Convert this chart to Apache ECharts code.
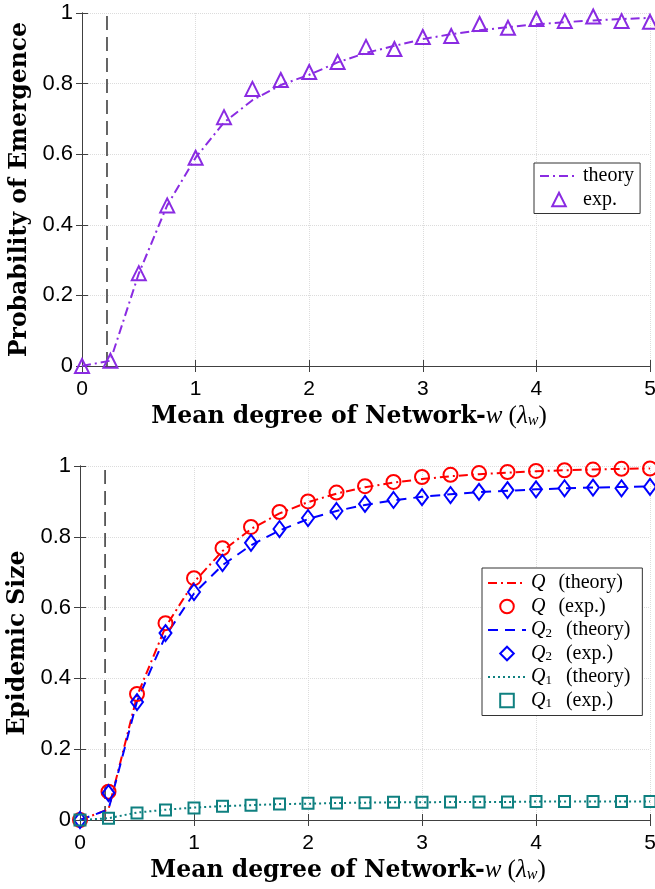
<!DOCTYPE html>
<html>
<head>
<meta charset="utf-8">
<script src="https://cdn.jsdelivr.net/npm/echarts@6/dist/echarts.min.js"></script>
<style>
	html, body { margin: 0; padding: 0; background: #fff; }
	#chart { width: 655px; height: 889px; }
</style>
</head>
<body>
<div id="chart"></div>
<script>
// x 取值 (mean degree)
var xVals = [0, 0.25, 0.5, 0.75, 1, 1.25, 1.5, 1.75, 2, 2.25, 2.5, 2.75, 3, 3.25, 3.5, 3.75, 4, 4.25, 4.5, 4.75, 5];
var threshold = 0.22;
var xTicks = [0, 1, 2, 3, 4, 5];
var yTicks = [0, 0.2, 0.4, 0.6, 0.8, 1];

// 上图：出现概率
var emergenceTheory = [0, 0.015, 0.262, 0.455, 0.59, 0.69, 0.753, 0.796, 0.825, 0.86, 0.887, 0.907, 0.926, 0.94, 0.951, 0.96, 0.968, 0.974, 0.979, 0.983, 0.986];
var emergenceExp = [0, 0.015, 0.263, 0.455, 0.59, 0.705, 0.785, 0.81, 0.833, 0.861, 0.904, 0.898, 0.932, 0.935, 0.969, 0.958, 0.983, 0.977, 0.99, 0.977, 0.975];

// 下图：流行规模
var qTheory = [0, 0.03, 0.35, 0.545, 0.672, 0.76, 0.822, 0.866, 0.898, 0.922, 0.94, 0.953, 0.963, 0.971, 0.977, 0.981, 0.985, 0.988, 0.99, 0.992, 0.993];
var qExp = [0, 0.08, 0.356, 0.556, 0.683, 0.768, 0.828, 0.87, 0.9, 0.925, 0.943, 0.955, 0.969, 0.975, 0.98, 0.983, 0.986, 0.988, 0.99, 0.992, 0.993];
var q2Theory = [0, 0.03, 0.335, 0.52, 0.64, 0.72, 0.776, 0.818, 0.85, 0.873, 0.89, 0.903, 0.913, 0.92, 0.926, 0.93, 0.934, 0.937, 0.939, 0.941, 0.942];
var q2Exp = [0, 0.076, 0.333, 0.528, 0.644, 0.726, 0.783, 0.822, 0.853, 0.873, 0.893, 0.904, 0.912, 0.918, 0.927, 0.932, 0.934, 0.937, 0.939, 0.937, 0.941];
var q1Theory = [0, 0.005, 0.021, 0.029, 0.035, 0.039, 0.042, 0.045, 0.046, 0.048, 0.049, 0.05, 0.05, 0.051, 0.051, 0.051, 0.052, 0.052, 0.052, 0.052, 0.052];
var q1Exp = [0, 0.005, 0.02, 0.028, 0.034, 0.039, 0.042, 0.045, 0.047, 0.048, 0.049, 0.05, 0.05, 0.051, 0.051, 0.051, 0.052, 0.052, 0.052, 0.052, 0.052];

var PURPLE = '#8a2be2', RED = '#ff0000', BLUE = '#0000ff', TEAL = '#0f8080';
var AXIS = '#404040';
var SANS = 'Liberation Sans';
var SERIF = 'Liberation Serif';
var TITLE_FONT = 'DejaVu Serif';

function pairs(arr) {
	var out = [];
	for (var i = 0; i < xVals.length; i++) {
		out.push([xVals[i], arr[i]]);
	}
	return out;
}

function mainX(grid, name) {
	return {
		gridIndex : grid,
		type : 'value',
		min : xTicks[0],
		max : xTicks[xTicks.length - 1],
		interval : 1,
		position : 'bottom',
		axisLine : { show : true, lineStyle : { color : AXIS, width : 1 } },
		axisTick : { show : true, inside : true, length : 6, lineStyle : { color : AXIS } },
		axisLabel : { color : '#000', fontFamily : SANS, fontSize : 21, margin : 13 },
		splitLine : { show : true, lineStyle : { color : '#dcdcdc', type : 'dotted', width : 1 } },
		name : name,
		nameLocation : 'middle',
		nameGap : 38,
		nameTextStyle : {
			color : '#000',
			padding : [0, 34, 0, 0],
			rich : {
				b : { fontFamily : TITLE_FONT, fontWeight : 'bold', fontSize : 23.5, color : '#000' },
				i : { fontFamily : SERIF, fontStyle : 'italic', fontSize : 25, color : '#000' },
				p : { fontFamily : SERIF, fontSize : 25, color : '#000' },
				s : { fontFamily : SERIF, fontStyle : 'italic', fontSize : 16, color : '#000', lineHeight : 15, verticalAlign : 'bottom' }
			}
		}
	};
}
function boxX(grid) {
	return {
		gridIndex : grid,
		type : 'value',
		min : xTicks[0],
		max : xTicks[xTicks.length - 1],
		interval : 1,
		position : 'top',
		axisLine : { show : true, lineStyle : { color : AXIS, width : 1 } },
		axisTick : { show : true, inside : true, length : 6, lineStyle : { color : AXIS } },
		axisLabel : { show : false },
		splitLine : { show : false }
	};
}
function mainY(grid, name, gap) {
	return {
		gridIndex : grid,
		type : 'value',
		min : yTicks[0],
		max : yTicks[yTicks.length - 1],
		interval : 0.2,
		position : 'left',
		axisLine : { show : true, lineStyle : { color : AXIS, width : 1 } },
		axisTick : { show : true, inside : true, length : 6, lineStyle : { color : AXIS } },
		axisLabel : { color : '#000', fontFamily : SANS, fontSize : 22, margin : 9 },
		splitLine : { show : true, lineStyle : { color : '#dcdcdc', type : 'dotted', width : 1 } },
		name : name,
		nameLocation : 'middle',
		nameGap : gap,
		nameTextStyle : { color : '#000', fontFamily : TITLE_FONT, fontWeight : 'bold', fontSize : 23.5 }
	};
}
function boxY(grid) {
	return {
		gridIndex : grid,
		type : 'value',
		min : yTicks[0],
		max : yTicks[yTicks.length - 1],
		interval : 0.2,
		position : 'right',
		axisLine : { show : true, lineStyle : { color : AXIS, width : 1 } },
		axisTick : { show : true, inside : true, length : 6, lineStyle : { color : AXIS } },
		axisLabel : { show : false },
		splitLine : { show : false }
	};
}

//理论曲线：只有线，图例里的点设为透明
function theoryLine(name, arr, color, dash, xi, yi) {
	return {
		name : name,
		type : 'line',
		xAxisIndex : xi,
		yAxisIndex : yi,
		data : pairs(arr),
		symbol : 'none',
		lineStyle : { color : color, width : 2, type : dash },
		itemStyle : { color : 'transparent', borderColor : 'transparent', borderWidth : 0 },
		z : 3
	};
}
//实验点：用不可见的线，这样图例里的符号保持比例
function expPoints(name, arr, color, symbol, size, xi, yi) {
	return {
		name : name,
		type : 'line',
		xAxisIndex : xi,
		yAxisIndex : yi,
		data : pairs(arr),
		symbol : symbol,
		symbolSize : size,
		showSymbol : true,
		lineStyle : { color : color, width : 0, opacity : 0 },
		itemStyle : { color : 'transparent', borderColor : color, borderWidth : 2 },
		z : 4
	};
}
function thresholdLine(xi, yi) {
	return {
		name : 'threshold',
		type : 'line',
		xAxisIndex : xi,
		yAxisIndex : yi,
		data : [[threshold, yTicks[0]], [threshold, yTicks[yTicks.length - 1]]],
		symbol : 'none',
		lineStyle : { color : '#555', width : 1.8, type : [14, 7] },
		z : 2
	};
}

var legendText = {
	'theory' : '{r|theory}',
	'exp.' : '{r|exp.}',
	'Q (theory)' : '{i|Q}{a|(theory)}',
	'Q (exp.)' : '{i|Q}{a|(exp.)}',
	'Q2 (theory)' : '{i|Q}{s|2}{b|(theory)}',
	'Q2 (exp.)' : '{i|Q}{s|2}{b|(exp.)}',
	'Q1 (theory)' : '{i|Q}{s|1}{b|(theory)}',
	'Q1 (exp.)' : '{i|Q}{s|1}{b|(exp.)}'
};
var legendRich = {
	r : { fontFamily : SERIF, fontSize : 20, color : '#000', lineHeight : 20 },
	a : { fontFamily : SERIF, fontSize : 20, color : '#000', lineHeight : 20, padding : [0, 0, 0, 13] },
	b : { fontFamily : SERIF, fontSize : 20, color : '#000', lineHeight : 20, padding : [0, 0, 0, 14] },
	i : { fontFamily : SERIF, fontStyle : 'italic', fontSize : 20, color : '#000', lineHeight : 20 },
	s : { fontFamily : SERIF, fontSize : 13, color : '#000', lineHeight : 13, verticalAlign : 'bottom' }
};
function legendBox(names, left, top, padding) {
	return {
		data : names,
		orient : 'vertical',
		left : left,
		top : top,
		padding : padding,
		itemWidth : 38,
		itemHeight : 17,
		itemGap : 3.5,
		backgroundColor : '#fff',
		borderColor : '#333',
		borderWidth : 1,
		borderRadius : 0,
		selectedMode : false,
		formatter : function(name) {
			return legendText[name];
		},
		textStyle : { rich : legendRich }
	};
}

var myChart = echarts.init(document.getElementById('chart'), null, { renderer : 'canvas' });
var option = {
	animation : false,
	backgroundColor : '#fff',
	grid : [
		{ left : 82, top : 13, width : 568, height : 353, outerBoundsMode : 'none', containLabel : false },
		{ left : 80, top : 466, width : 570, height : 354, outerBoundsMode : 'none', containLabel : false }
	],
	xAxis : [
		mainX(0, '{b|Mean degree of Network-}{i|w}{p| (}{i|λ}{s|w}{p|)}'),
		boxX(0),
		mainX(1, '{b|Mean degree of Network-}{i|w}{p| (}{i|λ}{s|w}{p|)}'),
		boxX(1)
	],
	yAxis : [
		mainY(0, 'Probability of Emergence', 47),
		boxY(0),
		mainY(1, 'Epidemic Size', 50),
		boxY(1)
	],
	legend : [
		legendBox(['theory', 'exp.'], 534, 163, [3, 6, 4, 5]),
		legendBox(['Q (theory)', 'Q (exp.)', 'Q2 (theory)', 'Q2 (exp.)', 'Q1 (theory)', 'Q1 (exp.)'], 482, 568, [5, 12, 5, 5])
	],
	series : [
		thresholdLine(0, 0),
		theoryLine('theory', emergenceTheory, PURPLE, [9, 4, 2, 4], 0, 0),
		expPoints('exp.', emergenceExp, PURPLE, 'triangle', 14, 0, 0),

		thresholdLine(2, 2),
		theoryLine('Q (theory)', qTheory, RED, [9, 4, 2, 4], 2, 2),
		expPoints('Q (exp.)', qExp, RED, 'circle', 14, 2, 2),
		theoryLine('Q2 (theory)', q2Theory, BLUE, [10, 7], 2, 2),
		expPoints('Q2 (exp.)', q2Exp, BLUE, 'diamond', [12, 16], 2, 2),
		theoryLine('Q1 (theory)', q1Theory, TEAL, [2, 3], 2, 2),
		expPoints('Q1 (exp.)', q1Exp, TEAL, 'rect', 11, 2, 2)
	]
};
myChart.setOption(option);
</script>
</body>
</html>
